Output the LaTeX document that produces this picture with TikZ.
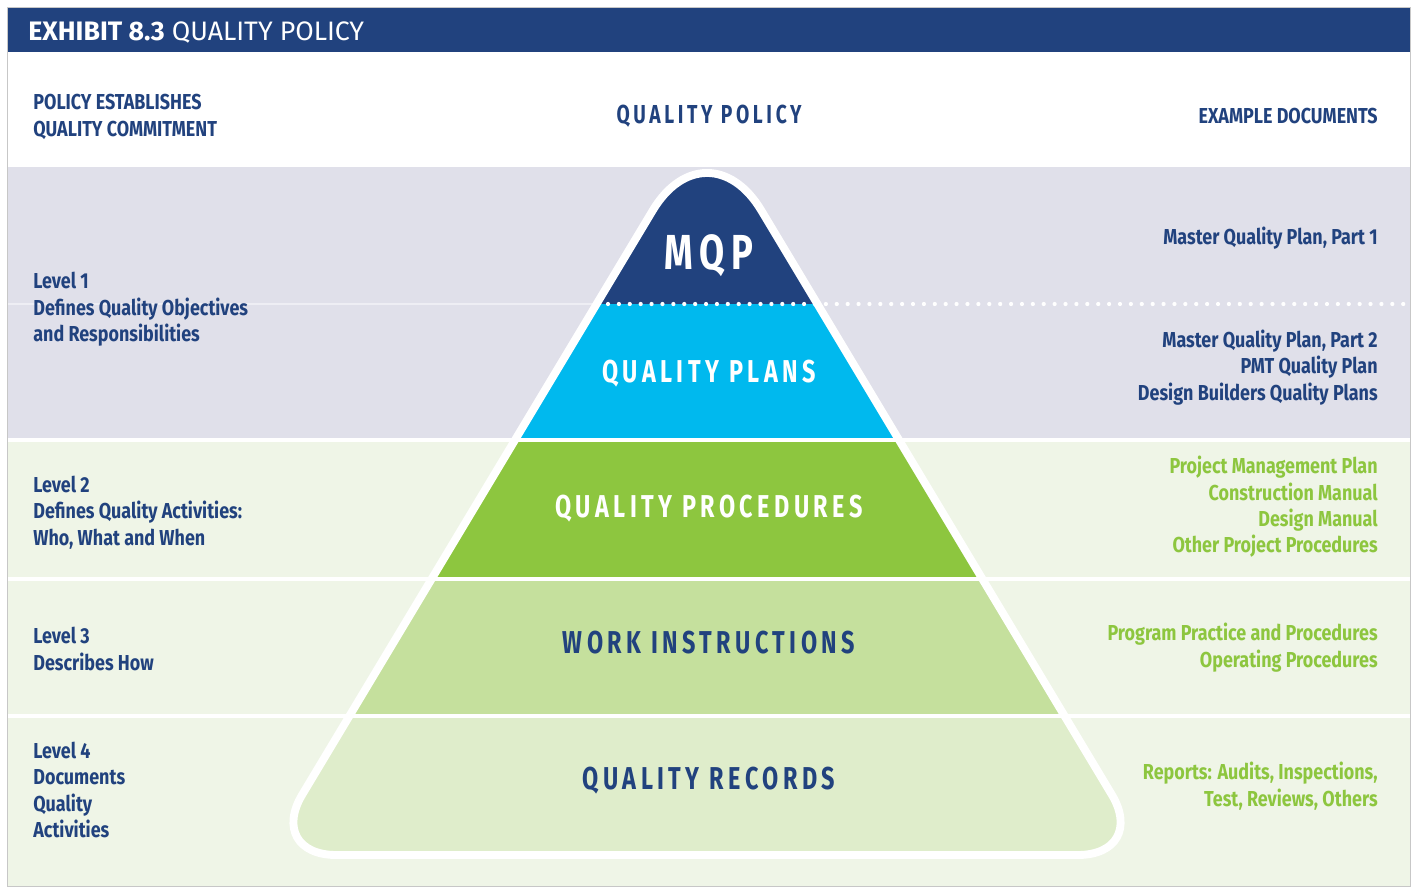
\documentclass[tikz,border=0pt]{standalone}
\usepackage{fontspec}
\setmainfont[FakeStretch=0.83]{Fira Sans}
\newfontfamily\titlefont{Fira Sans}
\newfontfamily\layerfont[FakeStretch=0.74,LetterSpace=14]{Fira Sans}
\definecolor{qblue}{HTML}{21427E}
\definecolor{qcyan}{HTML}{00B9EE}
\definecolor{qgreen}{HTML}{8DC63F}
\definecolor{qlgreen}{HTML}{C5E09D}
\definecolor{qpgreen}{HTML}{DFEDCB}
\definecolor{bandlav}{HTML}{E0E0EA}
\definecolor{bandgreen}{HTML}{EFF5E7}
\begin{document}
\begin{tikzpicture}[x=0.02cm,y=-0.02cm,
    lefttxt/.style={anchor=west,align=left,inner sep=0,text=qblue,font=\fontsize{12.3}{15}\selectfont\bfseries},
    righttxt/.style={anchor=east,align=right,inner sep=0,text=qblue,font=\fontsize{12.3}{15}\selectfont\bfseries},
    layer/.style={inner sep=0,font=\layerfont\fontsize{18}{20}\selectfont\bfseries},
    sepline/.style={white,line width=2.8pt}]
    \useasboundingbox (0,0) rectangle (1415,886);
    % bands
    \fill[white] (8,8) rectangle (1410,886);
    \fill[bandlav] (8,167) rectangle (1410,440);
    \fill[bandgreen] (8,440) rectangle (1410,886);
    \draw[white!45!bandlav,line width=0.6pt] (8,304) -- (600,304);
    % pyramid
    \begin{scope}
    \clip (707,855) [rounded corners=40pt] -- (266,855) [rounded corners=60pt] -- (707,120) [rounded corners=40pt] -- (1148,855) -- cycle;
    \foreach \ya/\yb/\col in {120/304/qblue,304/440/qcyan,440/579/qgreen,579/716/qlgreen,716/900/qpgreen}
        \fill[\col] (200,\ya) rectangle (1200,\yb);
    \end{scope}
    \draw[white,line width=4.5pt] (707,855) [rounded corners=40pt] -- (266,855) [rounded corners=60pt] -- (707,120) [rounded corners=40pt] -- (1148,855) -- cycle;
    \foreach \y in {440,579,716} \draw[sepline] (8,\y) -- (1410,\y);
    \draw[white,line width=2.4pt,line cap=round,dash pattern=on 0pt off 6.2pt] (608,304) -- (1410,304);
    % title bar and frame
    \fill[qblue] (8,8) rectangle (1410,52);
    \draw[black!22,line width=0.8pt] (7.5,7.5) rectangle (1410.5,887);
    \node[anchor=west,inner sep=0,text=white,font=\titlefont\fontsize{15.2}{17}\selectfont] (title) at (28,33) {\bfseries EXHIBIT 8.3\mdseries{} QUALITY POLICY};
    % header
    \node[lefttxt] (policy) at (33,117) {POLICY ESTABLISHES\\QUALITY COMMITMENT};
    \node[layer,text=qblue,font=\layerfont\fontsize{14.8}{16}\selectfont\bfseries] (qpolicy) at (709,116) {QUALITY POLICY};
    \node[righttxt] (exdocs) at (1378,116) {EXAMPLE DOCUMENTS};
    % levels
    \node[lefttxt] (lvlone) at (33,309.5) {Level 1\\Defines Quality Objectives\\and Responsibilities};
    \node[lefttxt] (lvltwo) at (33,512.5) {Level 2\\Defines Quality Activities:\\Who, What and When};
    \node[lefttxt] (lvlthree) at (33,649) {Level 3\\Describes How};
    \node[lefttxt] (lvlfour) at (33,790) {Level 4\\Documents\\Quality\\Activities};
    % documents
    \node[righttxt] (docone) at (1378,238) {Master Quality Plan, Part 1};
    \node[righttxt] (doctwo) at (1378,367.5) {Master Quality Plan, Part 2\\PMT Quality Plan\\Design Builders Quality Plans};
    \node[righttxt,text=qgreen] (docthree) at (1378,507) {Project Management Plan\\Construction Manual\\Design Manual\\Other Project Procedures};
    \node[righttxt,text=qgreen] (docfour) at (1378,647.5) {Program Practice and Procedures\\Operating Procedures};
    \node[righttxt,text=qgreen] (docfive) at (1378,786) {Reports: Audits, Inspections,\\Test, Reviews, Others};
    % layer names
    \node[layer,text=white,font=\layerfont\fontsize{28}{30}\selectfont\bfseries] (mqp) at (709,256) {MQP};
    \node[layer,text=white] (plans) at (709,374) {QUALITY PLANS};
    \node[layer,text=white] (procs) at (709,509) {QUALITY PROCEDURES};
    \node[layer,text=qblue] (instr) at (709,643) {WORK INSTRUCTIONS};
    \node[layer,text=qblue] (records) at (709,781) {QUALITY RECORDS};
\end{tikzpicture}
\end{document}
